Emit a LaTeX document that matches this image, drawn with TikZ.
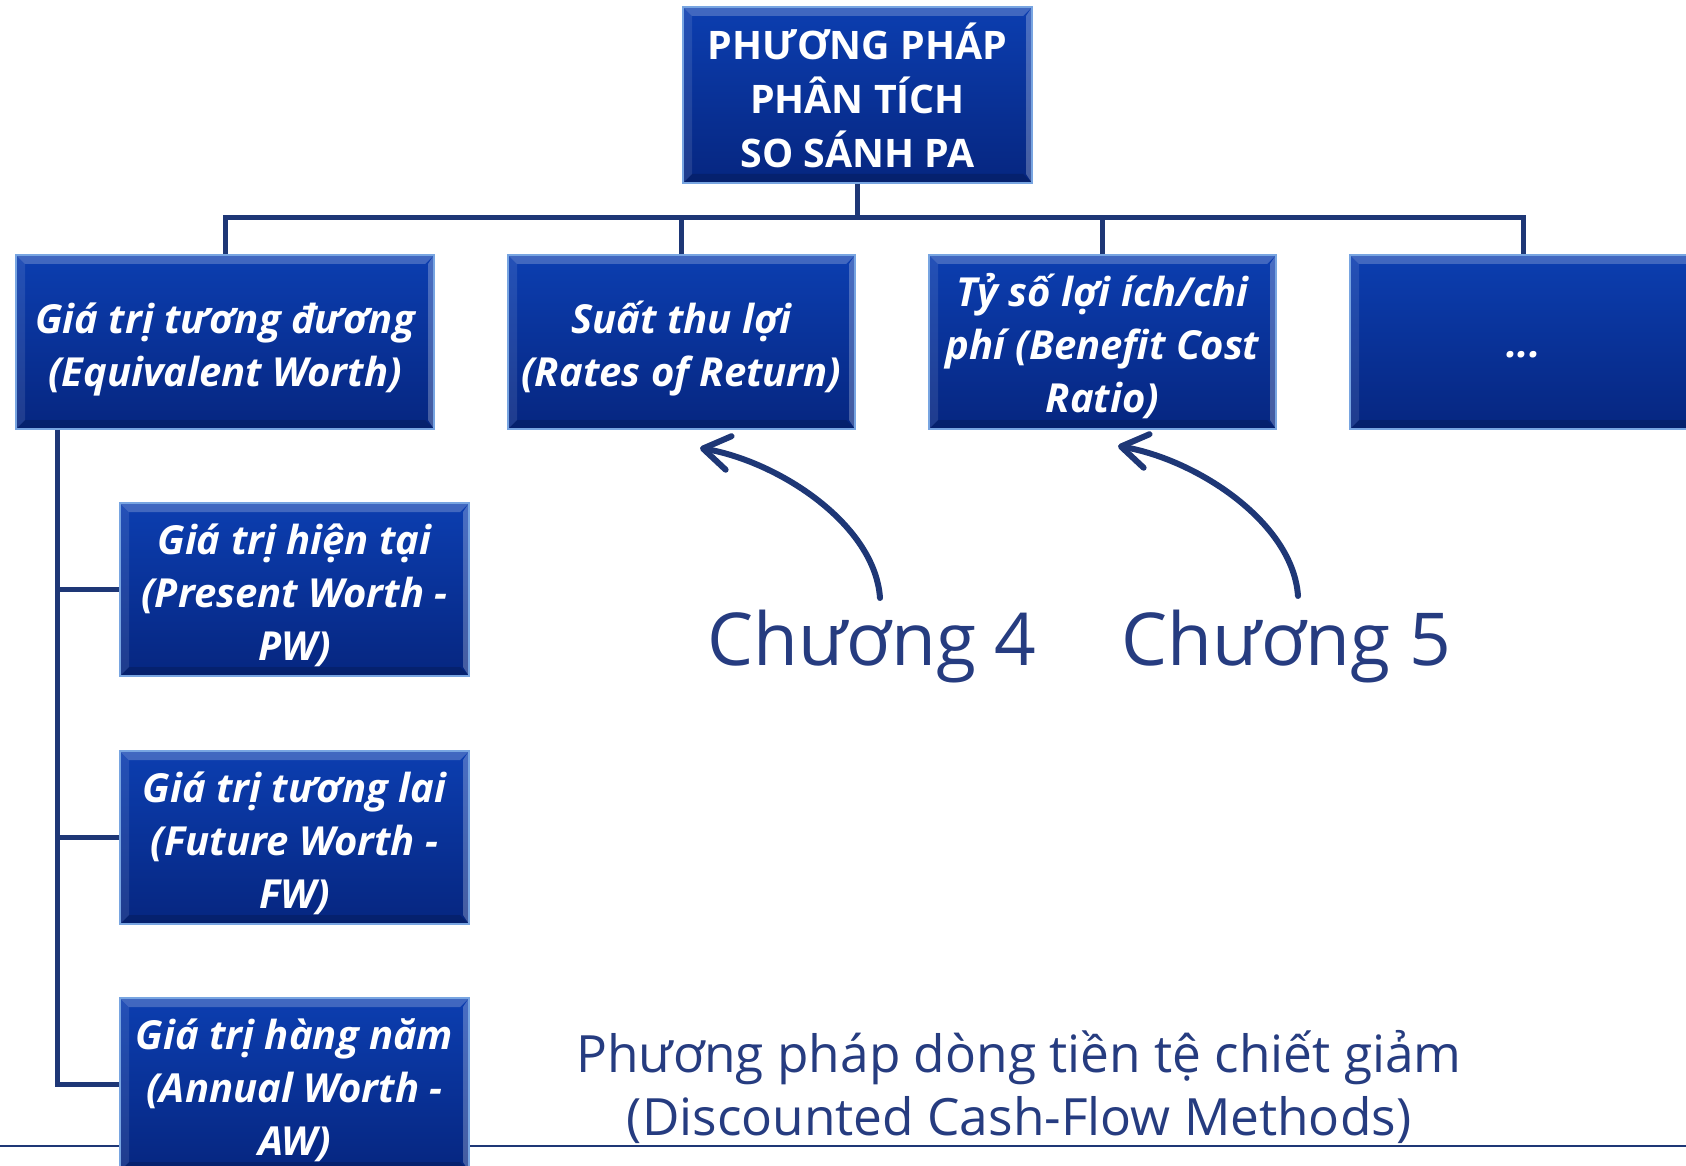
\documentclass[tikz,border=0pt]{standalone}
\usepackage{fontspec}
\setmainfont{Open Sans}
\usetikzlibrary{arrows.meta}
\definecolor{navy}{RGB}{30,55,118}
\definecolor{txtblue}{RGB}{38,60,128}
\definecolor{boxtop}{RGB}{12,62,176}
\definecolor{boxbot}{RGB}{6,38,128}
\definecolor{boxedge}{RGB}{120,165,225}
\newcommand\topstrutx{\rule{0pt}{45pt}}
\newcommand\botstrutx{\rule[-10pt]{0pt}{0pt}}
\begin{document}
\begin{tikzpicture}[x=1pt,y=-1pt,
  box/.style={draw=boxedge, line width=1.5pt, top color=boxtop, bottom color=boxbot,
    inner sep=0pt, align=center, text=white, anchor=center,
    path picture={
      \fill[white,opacity=0.22] (path picture bounding box.north west) -- (path picture bounding box.north east) -- ([shift={(-9pt,-9pt)}]path picture bounding box.north east) -- ([shift={(9pt,-9pt)}]path picture bounding box.north west) -- cycle;
      \fill[white,opacity=0.10] (path picture bounding box.north west) -- ([shift={(9pt,-9pt)}]path picture bounding box.north west) -- ([shift={(9pt,9pt)}]path picture bounding box.south west) -- (path picture bounding box.south west) -- cycle;
      \fill[black,opacity=0.15] (path picture bounding box.south west) -- ([shift={(9pt,9pt)}]path picture bounding box.south west) -- ([shift={(-9pt,9pt)}]path picture bounding box.south east) -- (path picture bounding box.south east) -- cycle;
      \fill[white,opacity=0.25] (path picture bounding box.north east) -- ([shift={(-6pt,-9pt)}]path picture bounding box.north east) -- ([shift={(-6pt,9pt)}]path picture bounding box.south east) -- (path picture bounding box.south east) -- cycle;
    }},
  lvl/.style={box, font=\fontsize{40}{53}\selectfont\bfseries\itshape},
  conn/.style={draw=navy, line width=5pt},
  curvarrow/.style={draw=navy, line width=6pt, line cap=round, -{Straight Barb[length=26pt,width=34pt,round]}},
  chap/.style={text=txtblue, font=\fontsize{73}{90}\selectfont, inner sep=0pt, anchor=base}
]
\useasboundingbox (0,0) rectangle (1686,1166);
\clip (0,0) rectangle (1686,1166);

% bottom rule
\draw[navy, line width=2pt] (0,1146) -- (1686,1146);

% top box
\node[box, minimum width=349pt, minimum height=176pt, font=\fontsize{39.3}{54}\selectfont\bfseries] (top) at (857.5,95) {PHƯƠNG PHÁP\\PHÂN TÍCH\\SO SÁNH PA};

% level 2
\node[lvl, minimum width=418pt, minimum height=174pt] (b1) at (225,342) {\topstrutx Giá trị tương đương\\(Equivalent Worth)\botstrutx};
\node[lvl, minimum width=347pt, minimum height=174pt] (b2) at (681.5,342) {\topstrutx Suất thu lợi\\(Rates of Return)\botstrutx};
\node[lvl, minimum width=347pt, minimum height=174pt] (b3) at (1102.5,342) {\topstrutx Tỷ số lợi ích/chi\\phí (Benefit Cost\\Ratio)\botstrutx};
\node[lvl, minimum width=347pt, minimum height=174pt] (b4) at (1523.5,342) {\rule[-8pt]{0pt}{46pt}...};

% level 3
\node[lvl, minimum width=349pt, minimum height=173pt] (bA) at (294.5,589.5) {\topstrutx Giá trị hiện tại\\(Present Worth -\\PW)\botstrutx};
\node[lvl, minimum width=349pt, minimum height=173pt] (bB) at (294.5,837.5) {\topstrutx Giá trị tương lai\\(Future Worth -\\FW)\botstrutx};
\node[lvl, minimum width=349pt, minimum height=173pt] (bC) at (294.5,1084.5) {\topstrutx Giá trị hàng năm\\(Annual Worth -\\AW)\botstrutx};

% connectors
\coordinate (bus) at (0,218);
\coordinate (trunk) at (57,0);
\draw[conn] (top.south) -- (top.south |- bus);
\draw[conn] (b1.north) -- (b1.north |- bus) -- (b4.north |- bus) -- (b4.north);
\draw[conn] (b2.north) -- (b2.north |- bus);
\draw[conn] (b3.north) -- (b3.north |- bus);
\draw[conn] (trunk |- b1.south) -- (trunk |- bC.west) -- (bC.west);
\draw[conn] (trunk |- bA.west) -- (bA.west);
\draw[conn] (trunk |- bB.west) -- (bB.west);

% chapter labels
\node[chap] (ch4) at (872,665) {Chương 4};
\node[chap] (ch5) at (1286.5,665) {Chương 5};
\coordinate (a4s) at (880,598);
\coordinate (a4t) at (700,448);
\coordinate (a5s) at (1298,596);
\coordinate (a5t) at (1118,446);
\draw[curvarrow] (a4s) .. controls (875,525) and (780,462) .. (a4t);
\draw[curvarrow] (a5s) .. controls (1293,523) and (1198,460) .. (a5t);

% caption
\node[text=txtblue, font=\fontsize{51.4}{63}\selectfont, align=center, inner sep=0pt, anchor=base] (cap) at (1019,1135) {Phương pháp dòng tiền tệ chiết giảm\\(Discounted Cash-Flow Methods)};
\end{tikzpicture}
\end{document}
